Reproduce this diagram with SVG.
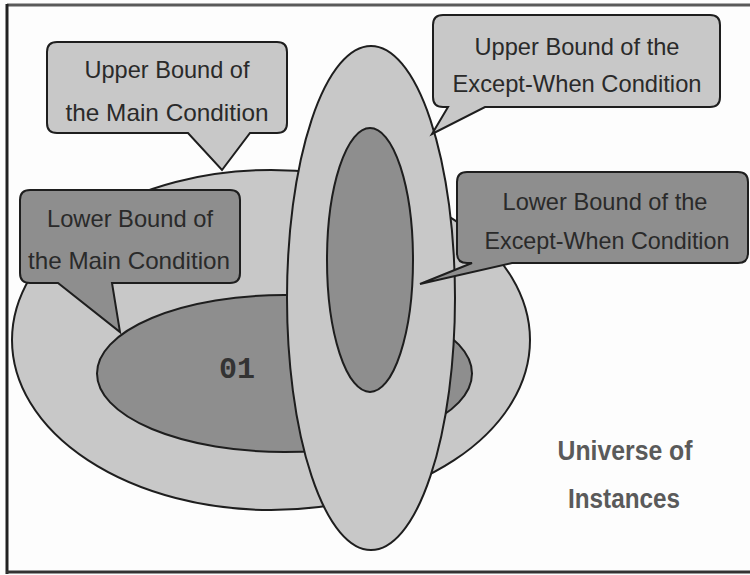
<svg xmlns="http://www.w3.org/2000/svg" width="750" height="575" viewBox="0 0 750 575">
<style>
  .shape { stroke: #1e1e1e; stroke-width: 2; }
  .light { fill: #c8c8c8; }
  .dark { fill: #8e8e8e; }
  .lbl { font-family: "Liberation Sans", Arial, sans-serif; font-size: 24px; fill: #2a2a2a; text-anchor: middle; }
  .uni { font-family: "Liberation Sans", Arial, sans-serif; font-size: 27px; font-weight: bold; fill: #5a5a5a; text-anchor: middle; }
  .pt { font-family: "Liberation Mono", "Courier New", monospace; font-size: 30px; font-weight: bold; fill: #333; }
</style>
<rect x="0" y="0" width="750" height="575" fill="#fdfdfd"/>
<g id="frame" fill="none">
  <line x1="7" y1="5" x2="750" y2="5" stroke="#5a5a5a" stroke-width="3"/>
  <line x1="7" y1="4" x2="7" y2="574" stroke="#222" stroke-width="3"/>
  <line x1="6" y1="572" x2="750" y2="572" stroke="#333" stroke-width="3"/>
</g>
<g id="main-upper">
  <ellipse class="shape light" cx="271" cy="340" rx="259" ry="170"/>
</g>
<g id="main-lower">
  <ellipse class="shape dark" cx="284.5" cy="373.5" rx="187.5" ry="78.5"/>
  <text class="pt" x="219" y="378">01</text>
</g>
<g id="except-upper">
  <ellipse class="shape light" cx="371" cy="298" rx="84" ry="252"/>
</g>
<g id="except-lower">
  <ellipse class="shape dark" cx="370" cy="260" rx="43" ry="132"/>
</g>
<g id="connectors">
  <g id="callout-main-upper">
    <path class="shape light" d="M57,42 H277 Q287,42 287,52 V123 Q287,133 277,133 H250 L222,170 L188,133 H57 Q47,133 47,123 V52 Q47,42 57,42 Z"/>
    <text class="lbl" x="167" y="78" textLength="165" lengthAdjust="spacingAndGlyphs">Upper Bound of</text>
    <text class="lbl" x="167" y="121" textLength="203" lengthAdjust="spacingAndGlyphs">the Main Condition</text>
  </g>
  <g id="callout-main-lower">
    <path class="shape dark" d="M30,190 H230 Q240,190 240,200 V273 Q240,283 230,283 H112 L120,332 L58,283 H30 Q20,283 20,273 V200 Q20,190 30,190 Z"/>
    <text class="lbl" x="130" y="227" textLength="166" lengthAdjust="spacingAndGlyphs">Lower Bound of</text>
    <text class="lbl" x="129" y="269" textLength="202" lengthAdjust="spacingAndGlyphs">the Main Condition</text>
  </g>
  <g id="callout-except-upper">
    <path class="shape light" d="M443,15 H710 Q720,15 720,25 V97 Q720,107 710,107 H485 L432,134 L448,107 H443 Q433,107 433,97 V25 Q433,15 443,15 Z"/>
    <text class="lbl" x="577" y="55" textLength="205" lengthAdjust="spacingAndGlyphs">Upper Bound of the</text>
    <text class="lbl" x="577" y="92" textLength="249" lengthAdjust="spacingAndGlyphs">Except-When Condition</text>
  </g>
  <g id="callout-except-lower">
    <path class="shape dark" d="M467,172 H738 Q748,172 748,182 V253 Q748,263 738,263 H512 L420,284 L472,263 H467 Q457,263 457,253 V182 Q457,172 467,172 Z"/>
    <text class="lbl" x="605" y="210" textLength="205" lengthAdjust="spacingAndGlyphs">Lower Bound of the</text>
    <text class="lbl" x="607" y="249" textLength="245" lengthAdjust="spacingAndGlyphs">Except-When Condition</text>
  </g>
</g>
<g id="universe">
  <text class="uni" x="625" y="460" textLength="135" lengthAdjust="spacingAndGlyphs">Universe of</text>
  <text class="uni" x="624" y="508" textLength="112" lengthAdjust="spacingAndGlyphs">Instances</text>
</g>
</svg>
